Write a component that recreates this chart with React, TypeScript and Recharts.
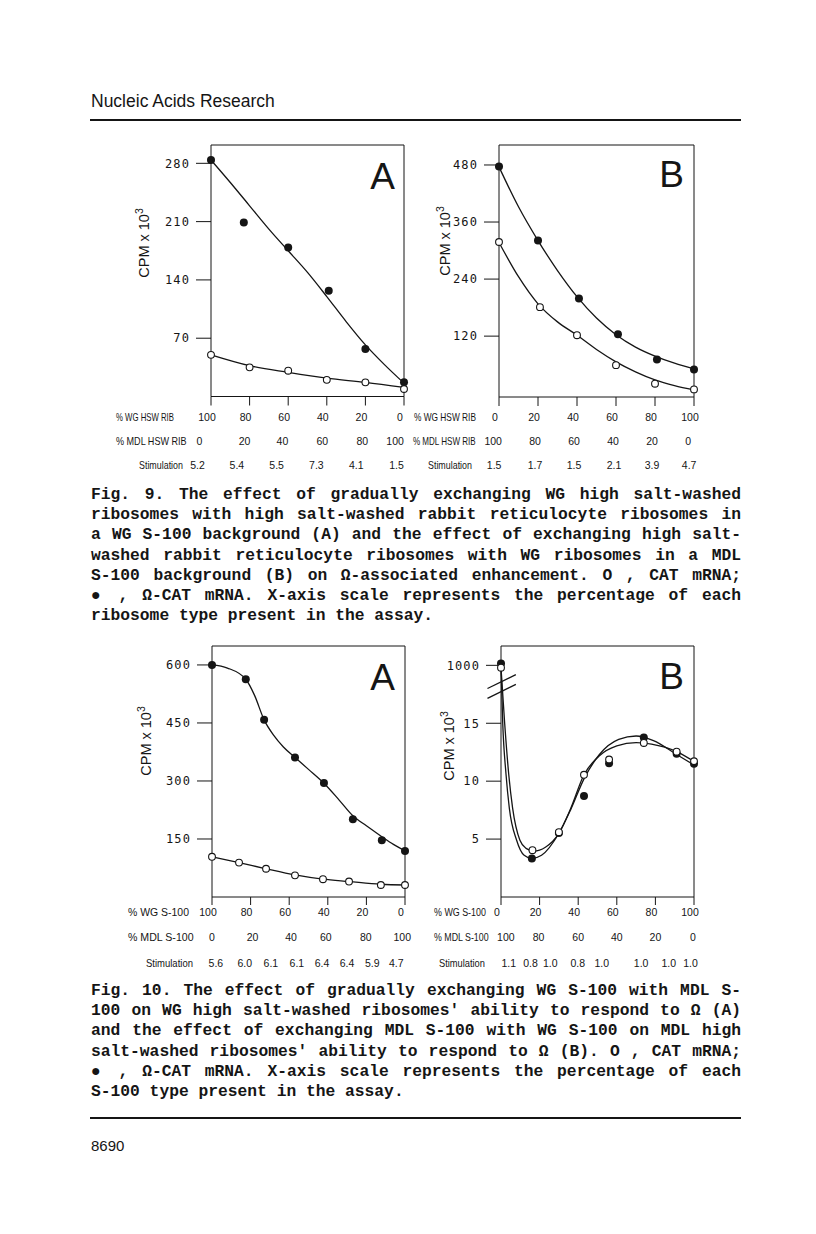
import React from "react";
import { ComposedChart, Line, Scatter, XAxis, YAxis, ReferenceLine } from "recharts";

const INK = "#151515";
const SANS = "'Liberation Sans', Arial, Helvetica, sans-serif";
const MONO = "'DejaVu Sans Mono', monospace";
const TYPE = "'Liberation Mono', 'Courier New', monospace";

// shared x scale: percentage 0..100, ticks every 20
const X_DOMAIN: [number, number] = [0, 100];
const FRAME_DOMAIN: [number, number] = [0, 1];
const xTicks = [0, 20, 40, 60, 80, 100];
const pctDown = ["100", "80", "60", "40", "20", "0"];
const pctUp = ["0", "20", "40", "60", "80", "100"];

// ---------- Fig. 9A ----------
const f9aYTicks = [70, 140, 210, 280];
const f9aYLabels = ["70", "140", "210", "280"];
const f9aFilledX = [0, 17, 40, 61, 80, 100];
const f9aFilledY = [284, 209, 179, 127, 57, 17];
const f9aOpenX = [0, 20, 40, 60, 80, 100];
const f9aOpenY = [50, 35, 31, 20, 17, 9];
const f9aFilledFitX = [0, 10, 20, 30, 40, 50, 60, 70, 80, 90, 100];
const f9aFilledFitY = [284, 257, 229, 201, 175, 149, 120, 90, 62, 38, 16];
const f9aOpenFitX = [0, 20, 40, 60, 80, 100];
const f9aOpenFitY = [50, 37, 29, 22, 17, 11];
const f9aStim = ["5.2", "5.4", "5.5", "7.3", "4.1", "1.5"];
const f9aRow2Pos = [-6, 17.4, 37, 57.7, 78.4, 95.4];
const f9aRow3Pos = [-7, 13.4, 34, 54.6, 75.3, 96.1];

// ---------- Fig. 9B ----------
const f9bYTicks = [120, 240, 360, 480];
const f9bYLabels = ["120", "240", "360", "480"];
const f9bFilledX = [0, 20, 41, 61, 81, 100];
const f9bFilledY = [477, 321, 199, 124, 71, 50];
const f9bOpenX = [0, 21, 40, 60, 80, 100];
const f9bOpenY = [318, 181, 122, 59, 20, 8];
const f9bFitX = [0, 10, 20, 30, 40, 50, 60, 70, 80, 90, 100];
const f9bFilledFitY = [476, 392, 321, 258, 203, 158, 123, 97, 78, 63, 51];
const f9bOpenFitY = [317, 245, 188, 150, 122, 92, 66, 45, 28, 16, 7];
const f9bStim = ["1.5", "1.7", "1.5", "2.1", "3.9", "4.7"];
const f9bRow2Pos = [-3, 18.5, 38.5, 58.5, 78.5, 97];
const f9bRow3Pos = [-2.5, 18.5, 38.5, 59, 78.5, 97.5];

// ---------- Fig. 10A ----------
const f10aYTicks = [150, 300, 450, 600];
const f10aYLabels = ["150", "300", "450", "600"];
const f10aFilledX = [0, 17.5, 27, 43, 58, 73, 88, 100];
const f10aFilledY = [600, 563, 458, 361, 295, 201, 147, 119];
const f10aOpenX = [0, 14, 28, 43, 57.5, 71, 87.5, 100];
const f10aOpenY = [104, 89, 73, 56, 46, 40, 31, 31];
const f10aFilledFitX = [0, 8, 17.5, 22, 27, 32, 37, 43, 50, 58, 66, 73, 80, 88, 94, 100];
const f10aFilledFitY = [600, 592, 563, 522, 458, 418, 388, 361, 330, 294, 250, 210, 184, 156, 136, 119];
const f10aOpenFitX = [0, 14, 28, 43, 57.5, 71, 87.5, 100];
const f10aOpenFitY = [104, 89, 73, 57, 46, 40, 33, 31];
const f10aStim = ["5.6", "6.0", "6.1", "6.1", "6.4", "6.4", "5.9", "4.7"];
const f10aRow2Pos = [0, 21, 41, 59, 79.7, 98.6];
const f10aRow3Pos = [2, 17, 30.5, 44, 57, 70, 83, 95.5];

// ---------- Fig. 10B (axis broken: 20 on this axis is labelled 1000) ----------
const f10bYTicks = [5, 10, 15, 20];
const f10bYLabels = ["5", "10", "15", "1000"];
const f10bFilledX = [0, 16, 30, 43, 56, 74, 91, 100];
const f10bFilledY = [20.15, 3.33, 5.53, 8.71, 11.55, 13.76, 12.36, 11.5];
const f10bOpenX = [0, 16.3, 30, 43, 56, 74, 91, 100];
const f10bOpenY = [19.8, 4.04, 5.6, 10.55, 11.87, 13.3, 12.55, 11.72];
const f10bFilledFitX = [0, 0.9, 2.6, 4.3, 8.1, 12, 16, 21, 30, 36, 43, 51, 61, 70, 79, 91, 100];
const f10bFilledFitY = [20, 15, 10.6, 7.7, 4.9, 3.6, 3.33, 3.6, 5.5, 7.5, 10.2, 12.3, 13.6, 13.9, 13.5, 12.3, 11.4];
const f10bOpenFitX = [0, 1.9, 4, 6, 9.8, 13, 17, 23, 30, 36, 43, 51, 60, 70, 78, 91, 100];
const f10bOpenFitY = [19.8, 15, 10.6, 7.7, 4.9, 4.2, 3.97, 4.3, 5.5, 7.6, 10.55, 12.2, 13.05, 13.33, 13.2, 12.55, 11.7];
const f10bStim = ["1.1", "0.8", "1.0", "0.8", "1.0", "1.0", "1.0", "1.0"];
const f10bRow2Pos = [2.5, 19.5, 40, 60, 80, 99.5];
const f10bRow3Pos = [4, 15.3, 25.5, 39.8, 52.2, 72.6, 86.9, 98.2];
const f10bBreaks = [
  { x1: -7, y1: 18.0, x2: 7.7, y2: 19.2 },
  { x1: -7, y1: 17.15, x2: 7.7, y2: 18.35 },
];

const cap9 = [
  "Fig.  9.  The effect of gradually exchanging WG high  salt-washed",
  "ribosomes with high salt-washed rabbit reticulocyte ribosomes  in",
  "a WG S-100 background (A) and the effect of exchanging high salt-",
  "washed  rabbit reticulocyte ribosomes with WG ribosomes in a  MDL",
  "S-100 background (B) on  \u03A9-associated enhancement. O , CAT mRNA;",
  "\u25CF , \u03A9-CAT mRNA.  X-axis scale represents the percentage of each",
  "ribosome type present in the assay.",
];
const cap10 = [
  "Fig. 10.  The effect of gradually exchanging WG S-100 with MDL S-",
  "100 on WG high salt-washed ribosomes' ability to respond to \u03A9 (A)",
  "and the effect of exchanging MDL S-100 with WG S-100 on MDL  high",
  "salt-washed ribosomes' ability to respond to \u03A9 (B). O , CAT mRNA;",
  "\u25CF   , \u03A9-CAT mRNA.  X-axis scale represents the percentage of each",
  "S-100 type present in the assay.",
];

const pts = (xs: number[], ys: number[]) => xs.map((x, i) => ({ x, y: ys[i] }));

const ROW_FS = 10.5;
const ROW_TICK = { fontSize: ROW_FS, fill: INK, fontFamily: SANS };
const ROW1_TICK = { fontSize: ROW_FS, fill: INK, fontFamily: SANS, dx: -4 };
const Y_TICK = { fontSize: 12, fill: INK, fontFamily: MONO, letterSpacing: 1.1 };

// widths (in em of Liberation Sans) of the row captions, used to set a condensed font
const EM_WG_HSW = 7.445;
const EM_MDL_HSW = 7.834;
const EM_STIM = 4.946;
const EM_WG_S = 5.835;
const EM_MDL_S = 6.224;

type Pt = { x: number; y: number };
type Row = { label: string; labelX: number; labelW: number; em: number; pos: number[]; fmt: (v: number, i: number) => string };
type PanelCfg = {
  left: number;
  top: number;
  width: number;
  height: number;
  margin: { top: number; right: number; bottom: number; left: number };
  yDomain: [number, number];
  yTicks: number[];
  yFmt: (v: number, i: number) => string;
  tickLen: number;
  rowH: number[];
  rowGap: number;
  fits: Pt[][];
  dots: { data: Pt[]; filled: boolean }[];
  rows: Row[];
  letter: string;
  letterX: number;
  letterY: number;
  yLabelX: number;
  yLabelY: number;
  breaks?: { x1: number; y1: number; x2: number; y2: number }[];
};

const row = (label: string, labelX: number, labelW: number, em: number, pos: number[], text: string[]): Row => ({
  label,
  labelX,
  labelW,
  em,
  pos,
  fmt: (_v: number, i: number) => text[i],
});
const yFmt = (labels: string[]) => (_v: number, i: number) => labels[i];

const fig9a: PanelCfg = {
  left: 100, top: 140, width: 315, height: 340,
  margin: { top: 4, right: 10, bottom: 2.5, left: 31 },
  yDomain: [0, 302], yTicks: f9aYTicks, yFmt: yFmt(f9aYLabels),
  tickLen: 9, rowH: [33, 24, 24], rowGap: 8,
  fits: [pts(f9aFilledFitX, f9aFilledFitY), pts(f9aOpenFitX, f9aOpenFitY)],
  dots: [
    { data: pts(f9aFilledX, f9aFilledY), filled: true },
    { data: pts(f9aOpenX, f9aOpenY), filled: false },
  ],
  rows: [
    row("% WG HSW RIB", 116, 58, EM_WG_HSW, xTicks, pctDown),
    row("% MDL HSW RIB", 116, 71, EM_MDL_HSW, f9aRow2Pos, pctUp),
    row("Stimulation", 139, 44, EM_STIM, f9aRow3Pos, f9aStim),
  ],
  letter: "A", letterX: 395, letterY: 189, yLabelX: 148.5, yLabelY: 243,
};

const fig9b: PanelCfg = {
  left: 410, top: 140, width: 295, height: 340,
  margin: { top: 4, right: 10, bottom: 2, left: 9 },
  yDomain: [-8, 522], yTicks: f9bYTicks, yFmt: yFmt(f9bYLabels),
  tickLen: 9, rowH: [33, 24, 24], rowGap: 8,
  fits: [pts(f9bFitX, f9bFilledFitY), pts(f9bFitX, f9bOpenFitY)],
  dots: [
    { data: pts(f9bFilledX, f9bFilledY), filled: true },
    { data: pts(f9bOpenX, f9bOpenY), filled: false },
  ],
  rows: [
    row("% WG  HSW RIB", 414, 62, EM_WG_HSW, xTicks, pctUp),
    row("% MDL HSW RIB", 413, 63, EM_MDL_HSW, f9bRow2Pos, pctDown),
    row("Stimulation", 428, 44, EM_STIM, f9bRow3Pos, f9bStim),
  ],
  letter: "B", letterX: 684, letterY: 187, yLabelX: 450, yLabelY: 241,
};

const fig10a: PanelCfg = {
  left: 100, top: 640, width: 316, height: 345,
  margin: { top: 5, right: 10, bottom: 3, left: 32 },
  yDomain: [0, 649], yTicks: f10aYTicks, yFmt: yFmt(f10aYLabels),
  tickLen: 8, rowH: [33, 26, 26], rowGap: 4,
  fits: [pts(f10aFilledFitX, f10aFilledFitY), pts(f10aOpenFitX, f10aOpenFitY)],
  dots: [
    { data: pts(f10aFilledX, f10aFilledY), filled: true },
    { data: pts(f10aOpenX, f10aOpenY), filled: false },
  ],
  rows: [
    row("% WG  S-100", 128, 61, EM_WG_S, xTicks, pctDown),
    row("% MDL  S-100", 128, 66, EM_MDL_S, f10aRow2Pos, pctUp),
    row("Stimulation", 146, 47, EM_STIM, f10aRow3Pos, f10aStim),
  ],
  letter: "A", letterX: 395, letterY: 690, yLabelX: 150.5, yLabelY: 741,
};

const fig10b: PanelCfg = {
  left: 410, top: 640, width: 295, height: 345,
  margin: { top: 5, right: 10, bottom: 3, left: 11 },
  yDomain: [0, 21.67], yTicks: f10bYTicks, yFmt: yFmt(f10bYLabels),
  tickLen: 8, rowH: [33, 26, 26], rowGap: 4,
  fits: [pts(f10bFilledFitX, f10bFilledFitY), pts(f10bOpenFitX, f10bOpenFitY)],
  dots: [
    { data: pts(f10bFilledX, f10bFilledY), filled: true },
    { data: pts(f10bOpenX, f10bOpenY), filled: false },
  ],
  rows: [
    row("% WG  S-100", 434, 52, EM_WG_S, xTicks, pctUp),
    row("% MDL S-100", 434, 55, EM_MDL_S, f10bRow2Pos, pctDown),
    row("Stimulation", 439, 46, EM_STIM, f10bRow3Pos, f10bStim),
  ],
  letter: "B", letterX: 684, letterY: 689, yLabelX: 453.5, yLabelY: 746,
  breaks: f10bBreaks,
};

const panels = [fig9a, fig9b, fig10a, fig10b];

const FilledDot = (p: any) => <circle cx={p.cx} cy={p.cy} r={4} fill={INK} />;
const OpenDot = (p: any) => (
  <circle cx={p.cx} cy={p.cy} r={3.4} fill="#fff" stroke={INK} strokeWidth={1.1} />
);

function Panel({ c }: { c: PanelCfg }) {
  const [r1, r2, r3] = c.rows;
  return (
    <div style={{ position: "absolute", left: c.left, top: c.top }}>
      <ComposedChart width={c.width} height={c.height} margin={c.margin}>
        {/* main bottom axis: tick marks + first row of the table */}
        <XAxis
          xAxisId="main"
          type="number"
          dataKey="x"
          domain={X_DOMAIN}
          ticks={r1.pos}
          tickFormatter={r1.fmt}
          tickSize={c.tickLen}
          tickMargin={c.rowGap}
          height={c.rowH[0]}
          stroke={INK}
          tick={ROW1_TICK}
        />
        {/* second and third rows of the table, as unlined axes */}
        <XAxis
          xAxisId="row2"
          type="number"
          dataKey="x"
          domain={X_DOMAIN}
          ticks={r2.pos}
          tickFormatter={r2.fmt}
          tickSize={1}
          tickMargin={c.rowGap - 1}
          height={c.rowH[1]}
          stroke="transparent"
          tick={ROW_TICK}
        />
        <XAxis
          xAxisId="row3"
          type="number"
          dataKey="x"
          domain={X_DOMAIN}
          ticks={r3.pos}
          tickFormatter={r3.fmt}
          tickSize={1}
          tickMargin={c.rowGap - 1}
          height={c.rowH[2]}
          stroke="transparent"
          tick={ROW_TICK}
        />
        <XAxis
          xAxisId="top"
          orientation="top"
          type="number"
          domain={X_DOMAIN}
          tick={false}
          tickLine={false}
          height={1}
          stroke={INK}
        />
        <YAxis
          yAxisId="main"
          type="number"
          dataKey="y"
          domain={c.yDomain}
          ticks={c.yTicks}
          tickFormatter={c.yFmt}
          tickSize={15}
          tickMargin={6}
          width={80}
          stroke={INK}
          allowDataOverflow
          tick={Y_TICK}
        />
        <YAxis
          yAxisId="right"
          orientation="right"
          type="number"
          domain={FRAME_DOMAIN}
          tick={false}
          tickLine={false}
          width={1}
          stroke={INK}
        />
        {/* invisible carriers so the table axes own a domain */}
        <Line xAxisId="row2" yAxisId="main" data={c.fits[0]} dataKey="y" stroke="none" dot={false} activeDot={false} isAnimationActive={false} />
        <Line xAxisId="row3" yAxisId="main" data={c.fits[0]} dataKey="y" stroke="none" dot={false} activeDot={false} isAnimationActive={false} />
        {c.fits.map((f, i) => (
          <Line
            key={`fit${i}`}
            xAxisId="main"
            yAxisId="main"
            data={f}
            dataKey="y"
            type="monotone"
            dot={false}
            stroke={INK}
            strokeWidth={1.3}
            isAnimationActive={false}
          />
        ))}
        {c.dots.map((d, i) => (
          <Scatter
            key={`dots${i}`}
            xAxisId="main"
            yAxisId="main"
            data={d.data}
            dataKey="y"
            shape={d.filled ? FilledDot : OpenDot}
            isAnimationActive={false}
          />
        ))}
        {(c.breaks || []).map((b, i) => (
          <ReferenceLine
            key={`brk${i}`}
            xAxisId="main"
            yAxisId="main"
            segment={[
              { x: b.x1, y: b.y1 },
              { x: b.x2, y: b.y2 },
            ]}
            ifOverflow="visible"
            stroke={INK}
            strokeWidth={1.3}
          />
        ))}
      </ComposedChart>
    </div>
  );
}

function PanelText({ c }: { c: PanelCfg }) {
  const plotBottom = c.top + c.height - c.margin.bottom - c.rowH.reduce((s, h) => s + h, 0);
  const b1 = plotBottom + c.tickLen + c.rowGap + ROW_FS * 0.71;
  const b2 = plotBottom + c.rowH[0] + c.rowGap + ROW_FS * 0.71;
  const b3 = b2 + c.rowH[1];
  const baselines = [b1, b2, b3];
  return (
    <g>
      <text x={c.letterX} y={c.letterY} textAnchor="end" fontFamily={SANS} fontSize={37} fill={INK}>
        {c.letter}
      </text>
      <text
        transform={`translate(${c.yLabelX},${c.yLabelY}) rotate(-90)`}
        textAnchor="middle"
        fontFamily={SANS}
        fontSize={14.5}
        fill={INK}
      >
        CPM x 10
        <tspan dy={-6} fontSize={10.5}>
          3
        </tspan>
      </text>
      {c.rows.map((r, i) => {
        // condensed caption: font size sets the width, a vertical stretch restores the height
        const fs = r.labelW / r.em;
        return (
          <text
            key={i}
            transform={`translate(${r.labelX},${baselines[i]}) scale(1,${(ROW_FS / fs).toFixed(3)})`}
            fontFamily={SANS}
            fontSize={fs}
            fill={INK}
          >
            {r.label}
          </text>
        );
      })}
    </g>
  );
}

function Caption({ top, lines }: { top: number; lines: string[] }) {
  return (
    <div
      style={{
        position: "absolute",
        left: 91,
        top,
        width: 650,
        fontFamily: TYPE,
        fontWeight: "bold",
        fontSize: 16.3,
        lineHeight: "20.2px",
        color: INK,
      }}
    >
      {lines.map((l, i) => (
        <div key={i} style={{ textAlignLast: i < lines.length - 1 ? "justify" : "left", whiteSpace: "nowrap" }}>
          {l}
        </div>
      ))}
    </div>
  );
}

export default function App() {
  return (
    <div
      style={{
        position: "absolute",
        left: 0,
        top: 0,
        width: 816,
        height: 1234,
        background: "#fff",
        color: INK,
        overflow: "hidden",
      }}
    >
      <div style={{ position: "absolute", left: 91, top: 91, fontFamily: SANS, fontSize: 17.5, lineHeight: "20px" }}>
        Nucleic Acids Research
      </div>
      <div style={{ position: "absolute", left: 90, top: 119, width: 651, height: 2, background: INK }} />
      {panels.map((c, i) => (
        <Panel key={i} c={c} />
      ))}
      <Caption top={485} lines={cap9} />
      <Caption top={981} lines={cap10} />
      <div style={{ position: "absolute", left: 90, top: 1117, width: 651, height: 2, background: INK }} />
      <div style={{ position: "absolute", left: 91, top: 1137, fontFamily: SANS, fontSize: 15, lineHeight: "18px" }}>
        8690
      </div>
      <svg width={816} height={1234} style={{ position: "absolute", left: 0, top: 0, pointerEvents: "none" }}>
        {panels.map((c, i) => (
          <PanelText key={i} c={c} />
        ))}
      </svg>
    </div>
  );
}
